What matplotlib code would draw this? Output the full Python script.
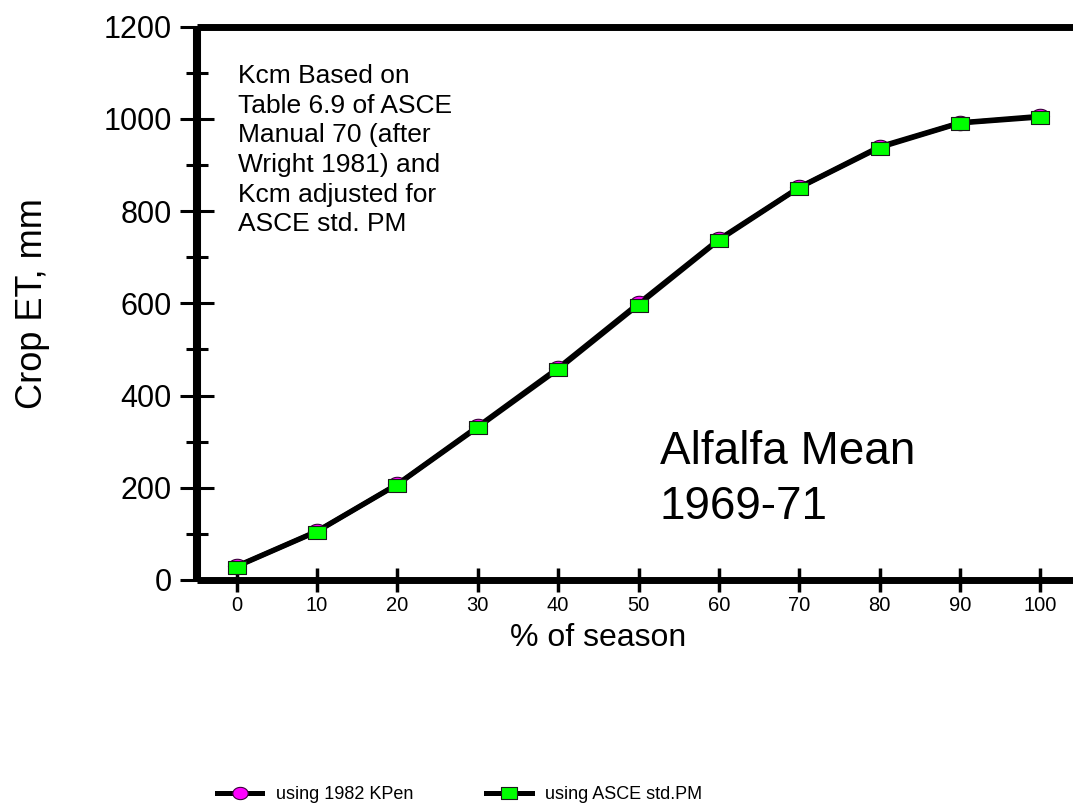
import numpy as np
import matplotlib
matplotlib.use("Agg")
import matplotlib.pyplot as plt
from matplotlib.path import Path

plt.rcParams['font.family'] = ['Liberation Sans', 'DejaVu Sans']

# Cumulative crop ET over the growing season
season_pct = [0, 10, 20, 30, 40, 50, 60, 70, 80, 90, 100]
et_kpen_1982 = [30, 106, 208, 333, 460, 600, 739, 852, 940, 992, 1006]
et_asce_stdpm = [29, 105, 207, 331, 457, 597, 737, 851, 938, 991, 1004]

x_ticks = [0, 10, 20, 30, 40, 50, 60, 70, 80, 90, 100]
y_major = [0, 200, 400, 600, 800, 1000, 1200]
y_minor = [100, 300, 500, 700, 900, 1100]

series_labels = ["using 1982 KPen", "using ASCE std.PM"]

# Wide marker shapes: flattened ellipse and flattened rectangle
theta = np.linspace(0, 2 * np.pi, 41)
ellipse_marker = Path(np.column_stack([np.cos(theta), 0.8 * np.sin(theta)]))
rect_marker = Path([(-1, -0.72), (1, -0.72), (1, 0.72), (-1, 0.72), (-1, -0.72)],
                   closed=True)

fig = plt.figure(figsize=(10.73, 8.10), dpi=100)
ax = fig.add_axes([0.184, 0.284, 0.816, 0.683])

ax.plot(season_pct, et_kpen_1982, color="black", lw=3.6, marker=ellipse_marker,
        markersize=13, markerfacecolor="#ff00ff", markeredgecolor="#3a003a",
        markeredgewidth=0.8, label=series_labels[0], zorder=3)
ax.plot(season_pct, et_asce_stdpm, color="black", lw=3.6, marker=rect_marker,
        markersize=13, markerfacecolor="#00ff00", markeredgecolor="#1a1a1a",
        markeredgewidth=0.8, label=series_labels[1], zorder=4)

ax.set_xlim(-4.88, 104.05)
ax.set_ylim(0, 1200)

ax.spines['right'].set_visible(False)
ax.spines['left'].set_linewidth(5.8)
ax.spines['top'].set_linewidth(5.0)
ax.spines['bottom'].set_linewidth(5.0)
for s in ax.spines.values():
    s.set_capstyle('butt')

ax.set_xticks(x_ticks)
ax.set_yticks(y_major)
ax.set_yticks(y_minor, minor=True)
ax.tick_params(axis='x', direction='inout', length=17, width=2.5, labelsize=14.5,
               pad=3, top=False)
ax.tick_params(axis='y', which='major', direction='inout', length=24, width=2.2,
               labelsize=22, pad=6.5, right=False)
ax.tick_params(axis='y', which='minor', direction='inout', length=16, width=2.2,
               right=False)

ax.set_xlabel("% of season", fontsize=23)
ax.xaxis.set_label_coords(0.4575, -0.077)
ax.set_ylabel("Crop ET, mm", fontsize=26)
ax.yaxis.set_label_coords(-0.168, 0.5)

fig.text(0.2218, 0.921,
         "Kcm Based on\nTable 6.9 of ASCE\nManual 70 (after\nWright 1981) and\n"
         "Kcm adjusted for\nASCE std. PM",
         fontsize=19, ha='left', va='top', linespacing=1.3)

fig.text(0.615, 0.469, "Alfalfa Mean\n1969-71", fontsize=33, ha='left', va='top',
         linespacing=1.33)

fig.legend(loc='center left', bbox_to_anchor=(0.2025, 0.019), ncol=2, frameon=False,
           fontsize=13, handlelength=2.5, columnspacing=4.05, handletextpad=0.75,
           markerscale=0.85, borderaxespad=0, borderpad=0)

fig.savefig("out.png", dpi=100)
